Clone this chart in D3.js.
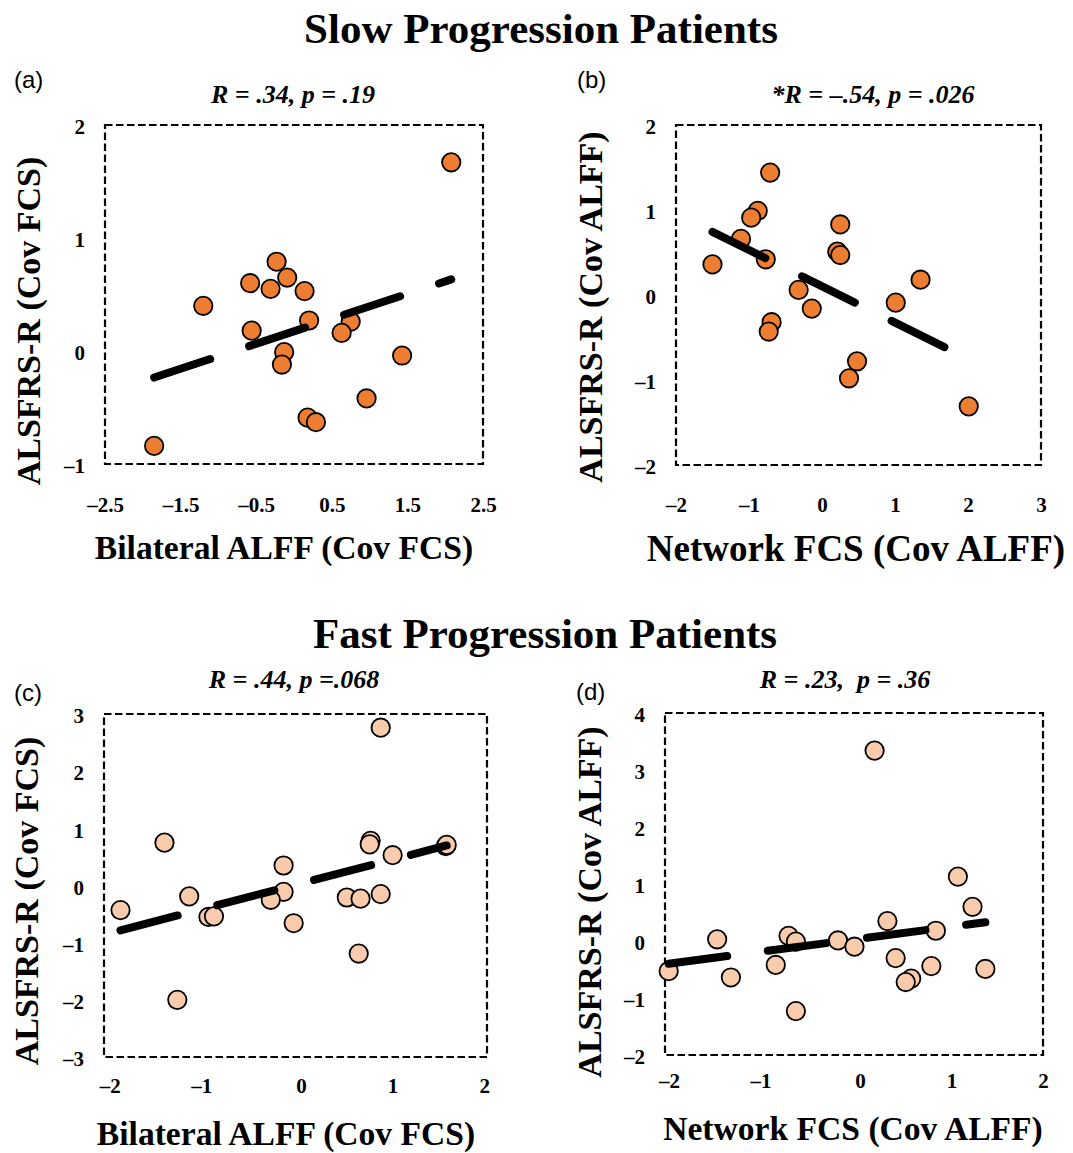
<!DOCTYPE html>
<html><head><meta charset="utf-8">
<script src="https://cdn.jsdelivr.net/npm/d3@7"></script>
<style>body{margin:0;background:#fff}text{white-space:pre}</style>
</head><body><svg id="chart" width="1073" height="1153"></svg>
<script>
// ---------- data ----------
const aX = [2.08, -1.20, -0.23, -0.09, -0.58, -0.31, 0.14, 0.20, -0.56, 0.75, 0.63, -0.13, -0.16, 1.43, 0.96, 0.18, 0.29, -1.85];
const aY = [1.67, 0.40, 0.79, 0.65, 0.60, 0.55, 0.53, 0.27, 0.18, 0.26, 0.16, -0.01, -0.12, -0.04, -0.42, -0.59, -0.63, -0.84];
const bX = [-0.71, -0.88, -0.97, -1.11, -1.50, -0.77, 0.25, 0.21, 0.25, 1.35, -0.32, -0.14, 1.01, -0.69, -0.73, 0.48, 0.37, 2.01];
const bY = [1.44, 0.99, 0.91, 0.66, 0.36, 0.42, 0.83, 0.51, 0.47, 0.18, 0.06, -0.16, -0.09, -0.32, -0.43, -0.78, -0.98, -1.31];
const cX = [0.87, -1.49, 0.76, 0.75, 1.58, 1.59, 1.00, -0.19, -1.22, -0.19, -0.33, 0.50, 0.65, 0.87, -1.97, -1.01, -0.95, -0.08, 0.63, -1.35];
const cY = [2.76, 0.75, 0.78, 0.72, 0.69, 0.71, 0.53, 0.35, -0.19, -0.11, -0.25, -0.21, -0.23, -0.15, -0.43, -0.55, -0.54, -0.66, -1.19, -2.00];
const dX = [0.16, 1.07, 1.23, 0.30, 0.83, -1.56, -0.78, -0.70, -0.24, -0.06, 0.39, 0.78, 1.37, -2.09, -1.41, -0.92, 0.56, 0.50, -0.70];
const dY = [3.34, 1.13, 0.60, 0.35, 0.18, 0.03, 0.09, -0.01, 0.01, -0.10, -0.30, -0.44, -0.49, -0.53, -0.64, -0.42, -0.66, -0.72, -1.23];

// trend lines: [intercept, slope]
const aTrend = [0.174, 0.221];
const bTrend = [0.103, -0.427];
const cTrend = [0.037, 0.417];
const dTrend = [0.040, 0.210];

// axis ranges and ticks
const aXDomain = [-2.5, 2.5], aYDomain = [-1, 2];
const bXDomain = [-2, 3], bYDomain = [-2, 2];
const cXDomain = [-2.15, 2.03], cYDomain = [-3, 3];
const dXDomain = [-2.13, 2], dYDomain = [-2, 4];
const aXTicks = [-2.5, -1.5, -0.5, 0.5, 1.5, 2.5], aYTicks = [-1, 0, 1, 2];
const bXTicks = [-2, -1, 0, 1, 2, 3], bYTicks = [-2, -1, 0, 1, 2];
const cXTicks = [-2, -1, 0, 1, 2], cYTicks = [-3, -2, -1, 0, 1, 2, 3];
const dXTicks = [-2, -1, 0, 1, 2], dYTicks = [-2, -1, 0, 1, 2, 3, 4];

// texts
const groupTitles = ["Slow Progression Patients", "Fast Progression Patients"];
const panelLetters = ["(a)", "(b)", "(c)", "(d)"];
const statLabels = ["R = .34, p = .19", "*R = \u2013.54, p = .026", "R = .44, p =.068", "R = .23,  p = .36"];
const xTitles = ["Bilateral ALFF (Cov FCS)", "Network FCS (Cov ALFF)", "Bilateral ALFF (Cov FCS)", "Network FCS (Cov ALFF)"];
const yTitles = ["ALSFRS-R (Cov FCS)", "ALSFRS-R (Cov ALFF)", "ALSFRS-R (Cov FCS)", "ALSFRS-R (Cov ALFF)"];

// ---------- layout ----------
const SERIF = "'Liberation Serif','Times New Roman',serif";
const SANS = "'Liberation Sans',Arial,sans-serif";
const panels = [
  {xs: aX, ys: aY, trend: aTrend, xd: aXDomain, yd: aYDomain, xt: aXTicks, yt: aYTicks, box: [105, 483, 125, 464], fill: "#ED7D31",
   letter: [14, 88], stat: [293, 103], xTitle: [284, 559, 33.6], yTitle: [40, 321], xLab: 48, hang: false},
  {xs: bX, ys: bY, trend: bTrend, xd: bXDomain, yd: bYDomain, xt: bXTicks, yt: bYTicks, box: [676, 1041, 125, 465], fill: "#ED7D31",
   letter: [577, 88], stat: [873, 103], xTitle: [856, 561, 37], yTitle: [602, 307], xLab: 47, hang: false},
  {xs: cX, ys: cY, trend: cTrend, xd: cXDomain, yd: cYDomain, xt: cXTicks, yt: cYTicks, box: [104, 487, 714, 1057], fill: "#F8CBAD",
   letter: [14, 701], stat: [294, 688], xTitle: [286, 1145, 33.6], yTitle: [38, 901], xLab: 36, hang: true},
  {xs: dX, ys: dY, trend: dTrend, xd: dXDomain, yd: dYDomain, xt: dXTicks, yt: dYTicks, box: [665, 1043, 713, 1055], fill: "#F8CBAD",
   letter: [576, 700], stat: [845, 688], xTitle: [853, 1140, 33.6], yTitle: [601, 902], xLab: 33, hang: true}
];

const svg = d3.select("#chart");
svg.append("rect").attr("width", 1073).attr("height", 1153).attr("fill", "#fff");

svg.append("text").attr("x", 541).attr("y", 43).attr("text-anchor", "middle")
  .attr("font-family", SERIF).attr("font-weight", "bold").attr("font-size", 43).text(groupTitles[0]);
svg.append("text").attr("x", 545).attr("y", 648).attr("text-anchor", "middle")
  .attr("font-family", SERIF).attr("font-weight", "bold").attr("font-size", 43).text(groupTitles[1]);

const fmt = v => (v < 0 ? "\u2013" : "") + String(Math.abs(v));

panels.forEach((p, i) => {
  const [bx0, bx1, by0, by1] = p.box;
  const x = d3.scaleLinear().domain(p.xd).range([bx0, bx1]);
  const y = d3.scaleLinear().domain(p.yd).range([by1, by0]);

  // dashed frame
  svg.append("rect").attr("x", bx0).attr("y", by0).attr("width", bx1 - bx0).attr("height", by1 - by0)
    .attr("fill", "none").attr("stroke", "#000").attr("stroke-width", 2.2).attr("stroke-dasharray", "7.5,3.5");

  // x axis
  const gx = svg.append("g").attr("transform", `translate(0,${by1})`)
    .call(d3.axisBottom(x).tickValues(p.xt).tickSize(0).tickFormat(fmt));
  gx.select(".domain").remove();
  gx.attr("font-family", SERIF).attr("font-size", 21).attr("font-weight", "bold");
  gx.selectAll("text").attr("y", p.xLab).attr("dy", null).attr("fill", "#000")
    .attr("dx", d => (p.hang && d < 0) ? -8 : 0);

  // y axis
  const gy = svg.append("g").attr("transform", `translate(${bx0},0)`)
    .call(d3.axisLeft(y).tickValues(p.yt).tickSize(0).tickPadding(20).tickFormat(fmt));
  gy.select(".domain").remove();
  gy.attr("font-family", SERIF).attr("font-size", 21).attr("font-weight", "bold");
  gy.selectAll("text").attr("dy", "0.42em").attr("fill", "#000");

  // points
  const pts = p.xs.map((v, k) => [v, p.ys[k]]);
  svg.append("g").selectAll("circle").data(pts).join("circle")
    .attr("cx", d => x(d[0])).attr("cy", d => y(d[1])).attr("r", 9.2)
    .attr("fill", p.fill).attr("stroke", "#000").attr("stroke-width", 1.8);

  // trend line
  const ext = d3.extent(p.xs);
  const line = d3.line().x(d => x(d)).y(d => y(p.trend[0] + p.trend[1] * d));
  svg.append("path").attr("d", line(ext)).attr("fill", "none").attr("stroke", "#000")
    .attr("stroke-width", 8).attr("stroke-linecap", "round").attr("stroke-dasharray", "59,41");

  // letters / stats / titles
  svg.append("text").attr("x", p.letter[0]).attr("y", p.letter[1]).attr("font-family", SANS)
    .attr("font-size", 24).text(panelLetters[i]);
  svg.append("text").attr("x", p.stat[0]).attr("y", p.stat[1]).attr("text-anchor", "middle")
    .attr("font-family", SERIF).attr("font-weight", "bold").attr("font-style", "italic")
    .attr("font-size", 26).text(statLabels[i]);
  svg.append("text").attr("x", p.xTitle[0]).attr("y", p.xTitle[1]).attr("text-anchor", "middle")
    .attr("font-family", SERIF).attr("font-weight", "bold").attr("font-size", p.xTitle[2]).text(xTitles[i]);
  svg.append("text").attr("transform", `translate(${p.yTitle[0]},${p.yTitle[1]}) rotate(-90)`)
    .attr("text-anchor", "middle").attr("font-family", SERIF).attr("font-weight", "bold")
    .attr("font-size", 34).text(yTitles[i]);
});
</script></body></html>
